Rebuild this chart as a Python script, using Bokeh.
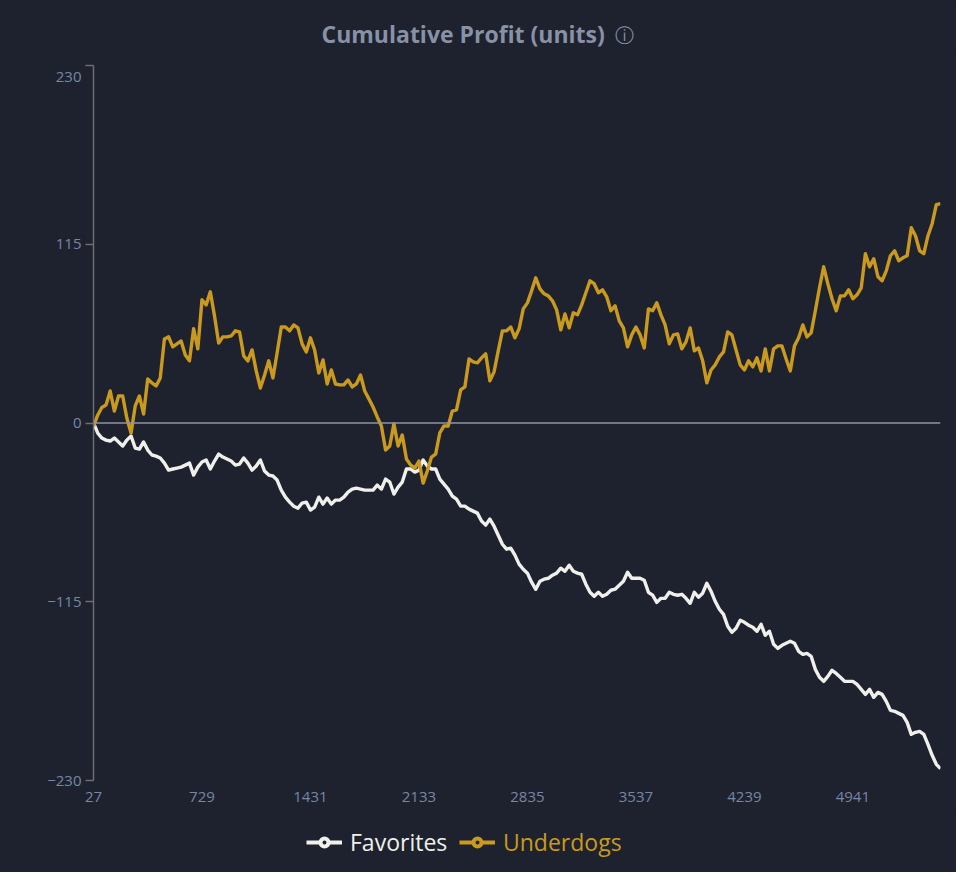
from bokeh.plotting import figure
from bokeh.layouts import column
from bokeh.models import Range1d, FixedTicker, Span, Legend, LegendItem, Label
from bokeh.embed import file_html
from bokeh.resources import INLINE

# ---------------- data ----------------
GAME_STEP = 27  # one point every 27 games
x_tick_values = [27, 729, 1431, 2133, 2835, 3537, 4239, 4941]
y_tick_values = [-230, -115, 0, 115, 230]
title_text = "Cumulative Profit (units)"
series_names = ["Favorites", "Underdogs"]

favorites = [
    0, -6.4, -9.7, -11, -11.6, -9.7, -12.2, -14.8, -11, -8.4,
    -16.1, -16.8, -12.2, -17.4, -20.6, -21.3, -22.5, -25.8, -30.3, -29.6,
    -29, -28.4, -27.1, -25.8, -33.5, -28.4, -25.1, -23.8, -29.6, -24.5,
    -20, -21.9, -23.2, -24.5, -27.1, -26.4, -22.5, -25.8, -30.3, -27.7,
    -23.8, -30.9, -33.5, -34.1, -36.7, -43.2, -47.7, -50.9, -53.5, -54.8,
    -51.5, -50.9, -56, -54.1, -47.7, -52.2, -48.3, -52.2, -49.6, -49.6,
    -47.7, -44.5, -42.5, -41.9, -42.5, -43.2, -43.2, -43.2, -40, -42.5,
    -36.1, -38, -45.7, -41.2, -38, -29.6, -29.6, -31.6, -30.3, -23.8,
    -27.7, -29.6, -29.6, -36.1, -39.3, -42.5, -47, -49, -53.5, -53.5,
    -55.4, -56.7, -58, -63.1, -65.7, -61.8, -66.4, -72.2, -78, -81.2,
    -80.5, -85, -90.8, -94.1, -96.6, -102.4, -107, -101.8, -100.5, -99.9,
    -97.9, -96.6, -93.4, -95.4, -91.5, -95.4, -96.6, -97.3, -103.7, -108.9,
    -111.5, -108.9, -111.5, -110.2, -107.6, -106.9, -104.4, -101.8, -96, -99.9,
    -99.9, -99.9, -101.2, -108.9, -110.8, -115.4, -112.8, -112.8, -108.9, -110.2,
    -110.8, -110.2, -112.8, -116, -108.9, -112.1, -109.5, -103.1, -108.2, -114.7,
    -119.8, -123.1, -130.8, -134.7, -132.1, -126.9, -128.2, -130.1, -131.4, -134,
    -129.5, -136.6, -134, -142.4, -145, -143, -141.7, -140.4, -141.7, -146.9,
    -148.8, -148.2, -150.1, -158.5, -163.6, -166.2, -163, -159.1, -161.1, -163.6,
    -166.2, -166.2, -166.2, -168.2, -171.4, -174.6, -171.4, -176.5, -173.3, -174.6,
    -179.1, -184.9, -185.5, -186.8, -188.1, -192.6, -200.3, -199, -198.4, -200.3,
    -206.7, -213.8, -219.6, -222.4,
]

underdogs = [
    -2, 5, 10, 11.6, 20.6, 7.7, 17.4, 17.4, 3, -6.4,
    11, 17.4, 5.8, 28.4, 25.8, 23.8, 29, 54.1, 55.4, 49,
    50.9, 52.8, 43.8, 40, 60.6, 47.7, 79.3, 76, 84.4, 68.9,
    51.5, 55.4, 55.4, 56, 59.3, 58.6, 43.2, 40, 47, 33.5,
    22.5, 30.9, 40, 29, 45, 61.8, 61.8, 59.3, 63.1, 61.2,
    50.9, 45.7, 54.8, 47, 32.2, 40.6, 25.1, 34.1, 25.1, 24.5,
    24.5, 27.7, 23.2, 25.1, 30.9, 20.6, 15.5, 10.3, 3.9, -1.9,
    -17.4, -14.8, -0.6, -14.8, -7.7, -23.2, -27, -29, -24.5, -38.7,
    -30.9, -21.9, -20, -6.4, -1.9, -1.9, 7.7, 8.4, 21.3, 23.2,
    41.2, 39.3, 38.7, 41.9, 44.5, 27.1, 32.9, 46.4, 59.3, 59.3,
    61.8, 54.8, 60.6, 73.4, 77.3, 85, 93.4, 86.3, 83.1, 81.8,
    78.6, 72.8, 59.9, 70.2, 61.2, 70.9, 69.6, 76, 83.8, 91.5,
    89.6, 83.8, 85.7, 81.2, 72.2, 75.4, 65.7, 61.2, 49, 56.7,
    61.8, 56.7, 48.3, 73.4, 72.2, 77.3, 69.6, 63.1, 50.9, 56.7,
    57.3, 47.7, 52.2, 61.2, 46.4, 48.3, 40, 25.8, 34.1, 37.4,
    42.5, 45.7, 58.6, 56.7, 47, 37.4, 34.1, 40, 36.1, 41.9,
    33.5, 47.7, 33.5, 47.7, 49.6, 49.6, 41.2, 33.5, 49.6, 54.8,
    63.1, 55.4, 58, 72.2, 87, 100.5, 89.6, 79.9, 72.2, 81.8,
    81.8, 85.7, 79.9, 82.5, 87, 108.9, 100.5, 105.7, 94.1, 91.5,
    97.9, 107.6, 110.8, 104.4, 106.3, 107.6, 125.6, 120.5, 110.8, 108.9,
    120.5, 128.2, 140.5, 141.1,
]

games = [GAME_STEP * (i + 1) for i in range(len(favorites))]

# ---------------- style ----------------
BG = "#1e222e"
TITLE_C = "#8891a6"
LABEL_C = "#7587a6"
AXIS_C = "#6e6e70"
ZERO_C = "#8f94a3"
GOLD = "#c99a1e"
WHITE = "#f0f0eb"
FONT = "Open Sans"
W = 956
LEFT, RIGHT = 93, 16          # frame borders of the main chart (px)
FRAME_H = 715                 # main frame height (px)
NAN = float("nan")


def blank_fig(h):
    # the column layout aligns frames, so the frame spans LEFT .. W-RIGHT
    f = figure(width=W, height=h, x_range=Range1d(LEFT, W - RIGHT), y_range=Range1d(0, h),
               x_axis_type=None, y_axis_type=None,
               output_backend="svg", toolbar_location=None, min_border=0,
               background_fill_color=BG, border_fill_color=BG, outline_line_color=BG)
    f.grid.visible = False
    return f


# ---------------- header (title) ----------------
head = blank_fig(55)
head.add_layout(Label(x=321, y=22, text=title_text, text_align="left", text_baseline="middle",
                      text_font=FONT, text_font_size="23px", text_font_style="bold",
                      text_color=TITLE_C))
head.add_layout(Label(x=624, y=21, text="\u24d8", text_align="center", text_baseline="middle",
                      text_font="DejaVu Sans", text_font_size="19px", text_color=TITLE_C))

# ---------------- main chart ----------------
p = figure(
    width=W, height=760,
    x_range=Range1d(games[0], games[-1]),
    y_range=Range1d(y_tick_values[0], y_tick_values[-1]),
    output_backend="svg", toolbar_location=None,
    min_border_left=LEFT, min_border_right=RIGHT, min_border_top=10, min_border_bottom=35,
    background_fill_color=BG, border_fill_color=BG, outline_line_color=BG,
)
p.xgrid.visible = False
p.ygrid.visible = False

# the top label sits ~11px below its tick in the reference
units_per_px = (y_tick_values[-1] - y_tick_values[0]) / FRAME_H
top_label_pos = y_tick_values[-1] - 11 * units_per_px
label_ticks = y_tick_values[:-1] + [top_label_pos]
p.yaxis.ticker = FixedTicker(ticks=label_ticks, minor_ticks=y_tick_values)
p.yaxis.major_label_overrides = {top_label_pos: str(y_tick_values[-1])}
p.yaxis.axis_line_color = AXIS_C
p.yaxis.axis_line_width = 1.5
p.yaxis.major_tick_line_color = None
p.yaxis.major_tick_out = 8
p.yaxis.major_tick_in = 0
p.yaxis.minor_tick_line_color = AXIS_C
p.yaxis.minor_tick_line_width = 1.5
p.yaxis.minor_tick_out = 8
p.yaxis.minor_tick_in = 0
p.yaxis.major_label_standoff = 4
p.yaxis.major_label_text_font = FONT
p.yaxis.major_label_text_font_size = "15px"
p.yaxis.major_label_text_color = LABEL_C

p.xaxis.ticker = FixedTicker(ticks=x_tick_values)
p.xaxis.axis_line_color = None
p.xaxis.major_tick_line_color = None
p.xaxis.minor_tick_line_color = None
p.xaxis.major_label_standoff = 5
p.xaxis.major_label_text_font = FONT
p.xaxis.major_label_text_font_size = "15px"
p.xaxis.major_label_text_color = LABEL_C

p.add_layout(Span(location=0, dimension="width", line_color=ZERO_C, line_width=1.5))

p.line(games, favorites, line_color=WHITE, line_width=3.4, line_join="round")
p.line(games, underdogs, line_color=GOLD, line_width=3.4, line_join="round")

# ---------------- legend ----------------
leg = blank_fig(57)


def legend_entry(fig, label, color, loc):
    ln = fig.line([NAN], [NAN], line_color=color, line_width=4)
    dot = fig.scatter([NAN], [NAN], marker="circle", size=10, fill_color=BG,
                      line_color=color, line_width=4)
    lg = Legend(
        items=[LegendItem(label=label, renderers=[ln, dot])],
        location=loc, orientation="horizontal",
        glyph_width=36, glyph_height=20, label_standoff=8,
        padding=0, margin=0, spacing=0,
        border_line_color=None, background_fill_alpha=0,
        label_text_font=FONT, label_text_font_size="23px", label_text_color=color,
    )
    fig.add_layout(lg)


legend_entry(leg, series_names[0], WHITE, (306 - LEFT, 14))
legend_entry(leg, series_names[1], GOLD, (459 - LEFT, 14))

layout = column(head, p, leg, spacing=0, styles={"background-color": BG})
html = file_html(layout, INLINE)
html = html.replace("<body>", '<body style="background-color: %s;">' % BG, 1)
open("out.html", "w").write(html)
